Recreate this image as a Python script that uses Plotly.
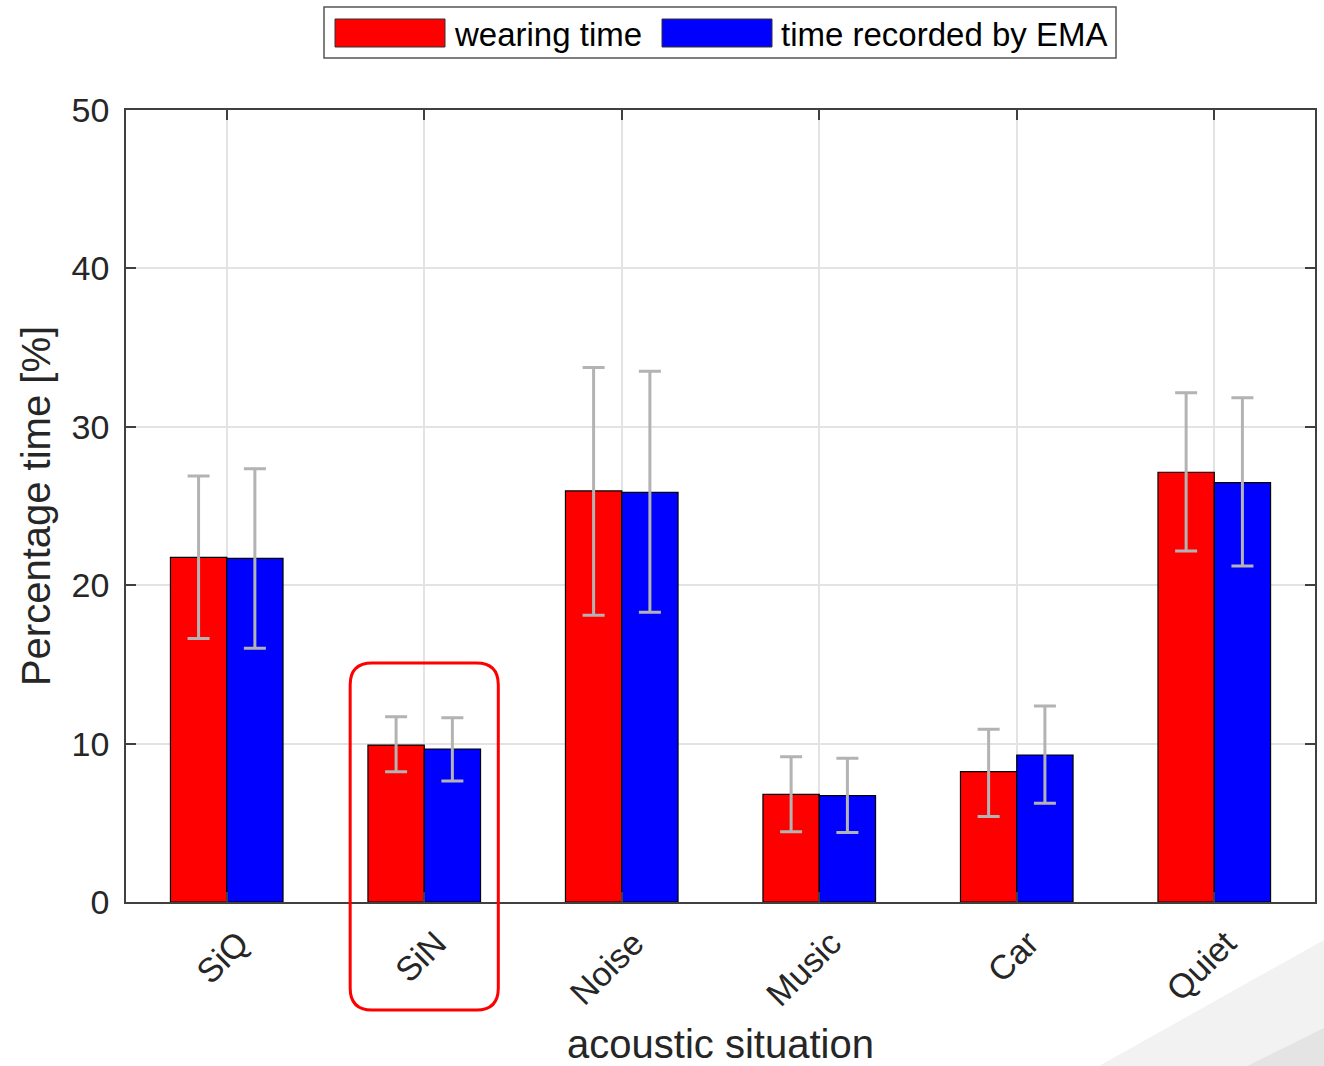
import plotly.graph_objects as go

categories = ["SiQ", "SiN", "Noise", "Music", "Car", "Quiet"]
wearing_mean = [21.76, 9.91, 25.95, 6.80, 8.23, 27.13]
wearing_upper = [26.90, 11.70, 33.75, 9.17, 10.90, 32.15]
wearing_lower = [16.64, 8.23, 18.10, 4.44, 5.39, 22.16]
ema_mean = [21.69, 9.66, 25.86, 6.71, 9.28, 26.47]
ema_upper = [27.35, 11.63, 33.50, 9.07, 12.37, 31.83]
ema_lower = [16.02, 7.64, 18.30, 4.38, 6.23, 21.21]
y_ticks = [0, 10, 20, 30, 40, 50]
series_names = ["wearing time", "time recorded by EMA"]
series_colors = ["#ff0000", "#0000ff"]
highlight = "SiN"

FONT = "Liberation Sans, Arial, sans-serif"
TXT = "#262626"
AX = "#404040"

W, H = 1324, 1066
ML, MR, MT, MB = 126, 9, 110, 164
PW, PH = W - ML - MR, H - MT - MB


def px_x(px):
    return (px - ML) / PW


def px_y(py):
    return (H - MB - py) / PH


def err(mean, upper, lower):
    return dict(type="data", symmetric=False,
                array=[u - m for u, m in zip(upper, mean)],
                arrayminus=[m - l for m, l in zip(mean, lower)],
                color="#b3b3b3", thickness=3, width=11)


fig = go.Figure()
for name, color, mean, up, lo in [
    (series_names[0], series_colors[0], wearing_mean, wearing_upper, wearing_lower),
    (series_names[1], series_colors[1], ema_mean, ema_upper, ema_lower),
]:
    fig.add_trace(go.Bar(x=categories, y=mean, name=name, showlegend=False,
                         marker=dict(color=color, line=dict(color="#000000", width=1.2)),
                         error_y=err(mean, up, lo)))

shapes = []
annotations = []

# decorative background corner of the original slide
shapes.append(dict(type="path", xref="paper", yref="paper", layer="below",
                   path=f"M {px_x(1099)},{px_y(1066)} L {px_x(1324)},{px_y(940)} L {px_x(1324)},{px_y(1066)} Z",
                   fillcolor="#f2f2f2", line=dict(width=0)))
shapes.append(dict(type="path", xref="paper", yref="paper", layer="below",
                   path=f"M {px_x(1247)},{px_y(1066)} L {px_x(1324)},{px_y(1028)} L {px_x(1324)},{px_y(1066)} Z",
                   fillcolor="#e4e4e4", line=dict(width=0)))

# rounded highlight box around the SiN group
ci = categories.index(highlight)
x0, x1 = ci - 0.375, ci + 0.375
y0, y1 = px_y(1010), px_y(663)
rx, ry = 0.11, 22 / PH
path = (f"M {x0+rx},{y1} L {x1-rx},{y1} Q {x1},{y1} {x1},{y1-ry} "
        f"L {x1},{y0+ry} Q {x1},{y0} {x1-rx},{y0} "
        f"L {x0+rx},{y0} Q {x0},{y0} {x0},{y0+ry} "
        f"L {x0},{y1-ry} Q {x0},{y1} {x0+rx},{y1} Z")
shapes.append(dict(type="path", path=path, xref="x", yref="paper",
                   line=dict(color="#ff0000", width=3), layer="above"))

# legend box (MATLAB style, wide swatches)
shapes.append(dict(type="rect", xref="paper", yref="paper",
                   x0=px_x(324), x1=px_x(1116), y0=px_y(58), y1=px_y(7),
                   fillcolor="white", line=dict(color="#555555", width=1.5)))
for sx, tx, name, color in [(335, 452, series_names[0], series_colors[0]),
                            (662, 779, series_names[1], series_colors[1])]:
    shapes.append(dict(type="rect", xref="paper", yref="paper",
                       x0=px_x(sx), x1=px_x(sx + 110), y0=px_y(47), y1=px_y(19),
                       fillcolor=color, line=dict(color="#333333", width=1)))
    annotations.append(dict(text=name, xref="paper", yref="paper", x=px_x(tx), y=px_y(35),
                            xanchor="left", yanchor="middle", showarrow=False,
                            font=dict(size=33, color="#000000", family=FONT)))

fig.update_layout(
    width=W, height=H,
    margin=dict(l=ML, r=MR, t=MT, b=MB, autoexpand=False),
    paper_bgcolor="white", plot_bgcolor="white",
    barmode="group", bargap=0.43, bargroupgap=0,
    showlegend=False,
    font=dict(family=FONT, color=TXT, size=34),
    shapes=shapes, annotations=annotations,
    xaxis=dict(range=[-0.51, 5.51], tickangle=-45, showgrid=True, gridcolor="#e3e3e3",
               gridwidth=1.5, showline=True, linecolor=AX, linewidth=1.5, mirror="ticks",
               ticks="inside", ticklen=10, tickcolor=AX, tickwidth=1.5,
               ticklabelshift=12, ticklabelstandoff=6, automargin=False,
               tickfont=dict(size=34, color=TXT),
               title=dict(text="acoustic situation", font=dict(size=40, color=TXT), standoff=29)),
    yaxis=dict(range=[0, 50], tickvals=y_ticks, showgrid=True, gridcolor="#e3e3e3",
               gridwidth=1.5, showline=True, linecolor=AX, linewidth=1.5, mirror="ticks",
               ticks="inside", ticklen=10, tickcolor=AX, tickwidth=1.5, zeroline=False,
               ticklabelstandoff=8, automargin=False,
               tickfont=dict(size=34, color=TXT),
               title=dict(text="Percentage time [%]", font=dict(size=40, color=TXT), standoff=9)),
)

fig.write_html("out.html")
